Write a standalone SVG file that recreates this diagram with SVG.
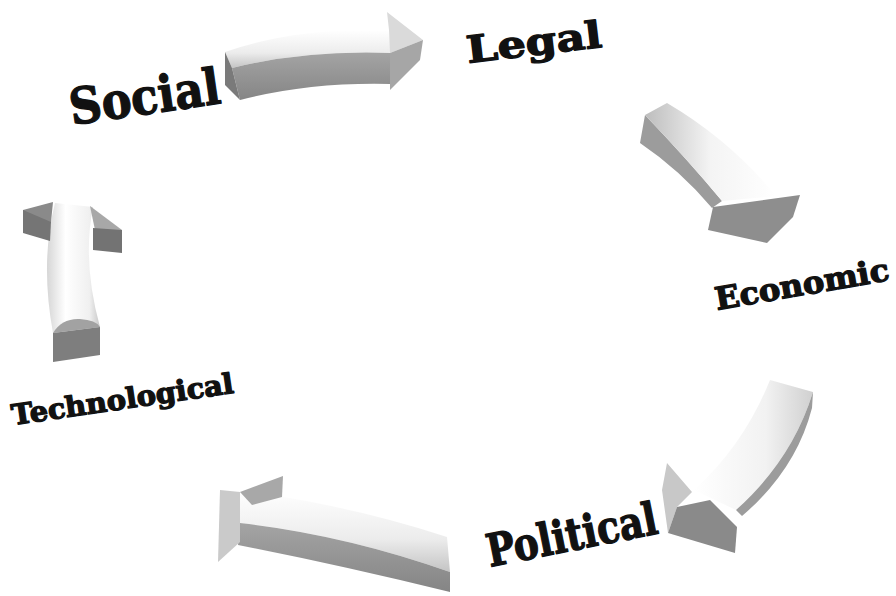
<svg xmlns="http://www.w3.org/2000/svg" width="896" height="596" viewBox="0 0 896 596">
<style>
.lbl{font-family:"DejaVu Serif","Liberation Serif",serif;font-weight:bold;fill:#111;stroke:#111;stroke-width:1.3;stroke-linejoin:round;}
.side{fill:url(#gSide);}
.dark{fill:#7a7a7a;}
.mid{fill:#9c9c9c;}
</style>
<defs>
<linearGradient id="gTopV" x1="0" y1="0" x2="0" y2="1">
<stop offset="0" stop-color="#ffffff"/><stop offset="0.6" stop-color="#ececec"/><stop offset="1" stop-color="#c4c4c4"/>
</linearGradient>
<linearGradient id="gSide" x1="0" y1="0" x2="0" y2="1">
<stop offset="0" stop-color="#a4a4a4"/><stop offset="1" stop-color="#858585"/>
</linearGradient>
<linearGradient id="gShaft" x1="0" y1="0" x2="1" y2="0">
<stop offset="0" stop-color="#d6d6d6"/><stop offset="0.35" stop-color="#ffffff"/><stop offset="0.8" stop-color="#f0f0f0"/><stop offset="1" stop-color="#c8c8c8"/>
</linearGradient>
<linearGradient id="gDiag" x1="0" y1="0" x2="1" y2="0">
<stop offset="0" stop-color="#bdbdbd"/><stop offset="0.5" stop-color="#f4f4f4"/><stop offset="1" stop-color="#ffffff"/>
</linearGradient>
<linearGradient id="gDiag2" x1="0" y1="0" x2="1" y2="0">
<stop offset="0" stop-color="#ffffff"/><stop offset="0.6" stop-color="#f2f2f2"/><stop offset="1" stop-color="#d0d0d0"/>
</linearGradient>
<filter id="soft" x="-5%" y="-5%" width="110%" height="110%"><feGaussianBlur stdDeviation="0.6"/></filter>
</defs>
<rect width="896" height="596" fill="#ffffff"/>

<g id="connectors" filter="url(#soft)">
<g id="arrow-social-legal">
<path d="M225,52 Q300,26 390,31 L390,53 Q305,50 232,68 Z" fill="url(#gTopV)"/>
<path class="side" d="M232,68 Q305,50 390,53 L390,84 Q310,82 240,100 Z"/>
<path class="dark" d="M225,52 L232,68 L240,100 L225,85 Z"/>
<path d="M387,12 L423,40 L390,53 L389,30 Z" fill="#dadada"/>
<path d="M390,53 L423,40 L420,60 L390,90 Z" fill="#a6a6a6"/>
</g>
<g id="arrow-legal-economic">
<path class="mid" d="M645,115 L640,143 Q680,170 712,208 L722,201 Q688,160 645,115 Z"/>
<path d="M645,115 L667,103 Q730,140 776,196 L722,201 Q688,160 645,115 Z" fill="url(#gDiag)"/>
<path d="M708,230 L713,207 L800,195 L793,217 L767,243 Z" fill="#8e8e8e"/>
</g>
<g id="arrow-economic-political">
<path d="M770,380 L813,392 Q792,460 736,510 L694,490 Q744,445 770,380 Z" fill="url(#gDiag2)"/>
<path class="mid" d="M813,392 L812,408 Q796,470 742,516 L736,510 Q792,460 813,392 Z"/>
<path d="M667,463 L692,492 L677,507 L668,533 L662,490 Z" fill="#c8c8c8"/>
<path d="M677,507 L710,500 L737,527 L735,553 L668,533 Z" fill="#8a8a8a"/>
</g>
<g id="arrow-political-technological">
<path d="M237,490 Q350,505 447,537 L450,572 Q345,535 240,523 Z" fill="url(#gTopV)"/>
<path class="side" d="M240,523 Q345,535 450,572 L450,592 Q340,565 238,545 Z"/>
<path d="M220,490 L240,492 L240,542 L218,562 Z" fill="#cacaca"/>
<path d="M240,492 L283,476 L282,497 L252,505 Z" fill="#a8a8a8"/>
</g>
<g id="arrow-technological-social">
<path d="M53,333 Q40,262 55,203 L93,207 Q82,262 100,327 Z" fill="url(#gShaft)"/>
<path d="M53,333 Q62,318 80,319 Q96,320 100,327 Z" fill="#a2a2a2"/>
<path d="M53,333 L53,362 L100,355 L100,327 Z" fill="#7e7e7e"/>
<path d="M23,210 L53,202 L51,222 L24,222 Z" fill="#8a8a8a"/>
<path d="M23,210 L51,222 L50,241 L23,233 Z" fill="#747474"/>
<path d="M90,206 L122,230 L95,230 Z" fill="#a8a8a8"/>
<path d="M93,228 L122,230 L122,253 L93,250 Z" fill="#737373"/>
</g>
</g>

<g id="node-social"><text class="lbl" x="72" y="125" font-size="50" textLength="152" lengthAdjust="spacingAndGlyphs" transform="rotate(-8.3 72 125)">Social</text></g>
<g id="node-legal"><text class="lbl" x="468" y="63" font-size="37" textLength="136" lengthAdjust="spacingAndGlyphs" transform="rotate(-6.8 468 63)">Legal</text></g>
<g id="node-economic"><text class="lbl" x="717" y="310" font-size="31" textLength="176" lengthAdjust="spacingAndGlyphs" transform="rotate(-9.8 717 310)">Economic</text></g>
<g id="node-political"><text class="lbl" x="490" y="567" font-size="45" textLength="173" lengthAdjust="spacingAndGlyphs" transform="rotate(-11.3 490 567)">Political</text></g>
<g id="node-technological"><text class="lbl" x="13" y="425" font-size="28" textLength="224" lengthAdjust="spacingAndGlyphs" transform="rotate(-8.3 13 425)">Technological</text></g>
</svg>
